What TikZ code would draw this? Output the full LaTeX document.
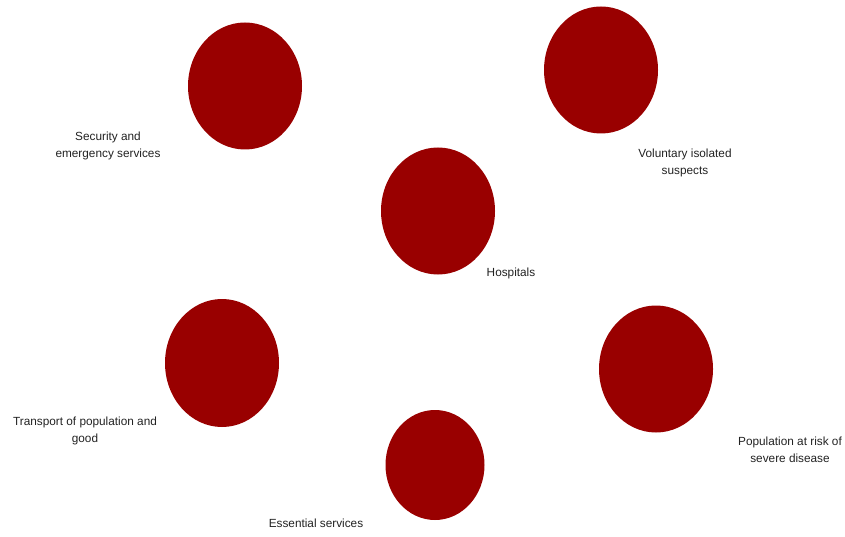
\documentclass[tikz,border=0pt]{standalone}
\usepackage{fontspec}
\setmainfont{Liberation Sans}
\definecolor{blob}{HTML}{990000}
\definecolor{txt}{HTML}{222222}
\tikzset{
  blobnode/.style={ellipse, fill=blob, draw=none, inner sep=0pt},
  lbl/.style={text=txt, align=center, inner sep=0pt, font=\fontsize{11.8}{17}\selectfont}
}
\usetikzlibrary{shapes.geometric}
\begin{document}
\begin{tikzpicture}[x=1pt,y=-1pt]
\useasboundingbox (0,0) rectangle (845,537);
\node[blobnode, minimum width=114pt, minimum height=127pt] (sec) at (245,86) {};
\node[blobnode, minimum width=114pt, minimum height=127pt] (vol) at (601,70) {};
\node[blobnode, minimum width=114pt, minimum height=127pt] (hos) at (438,211) {};
\node[blobnode, minimum width=114pt, minimum height=128pt] (tra) at (222,363) {};
\node[blobnode, minimum width=114pt, minimum height=127pt] (pop) at (656,369) {};
\node[blobnode, minimum width=99pt, minimum height=110pt] (ess) at (435,465) {};
\node[lbl] (secl) at (108,146) {Security and\\emergency services};
\node[lbl] (voll) at (685,163) {Voluntary isolated\\suspects};
\node[lbl] (hosl) at (511,273) {Hospitals};
\node[lbl] (tral) at (85,431) {Transport of population and\\good};
\node[lbl] (popl) at (790,450) {Population at risk of\\severe disease};
\node[lbl] (essl) at (316,523) {Essential services};
\end{tikzpicture}
\end{document}
